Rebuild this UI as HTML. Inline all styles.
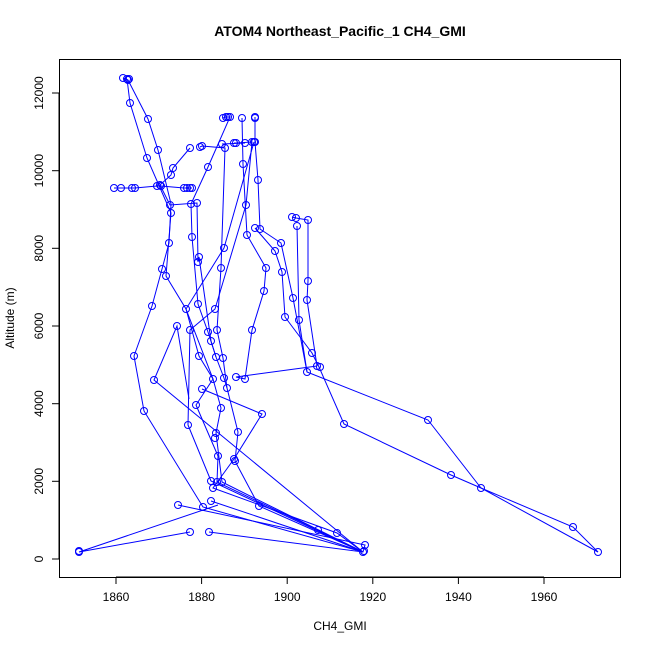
<!DOCTYPE html>
<html><head><style>body{margin:0;background:#fff}svg{display:block}text{font-family:"Liberation Sans",sans-serif}</style></head><body>
<svg width="650" height="650" xmlns="http://www.w3.org/2000/svg">
<rect width="650" height="650" fill="#fff"/>
<text x="340" y="36" font-size="14" font-weight="bold" text-anchor="middle">ATOM4 Northeast_Pacific_1 CH4_GMI</text>
<rect x="59.5" y="59.5" width="561" height="518" fill="none" stroke="#000"/>
<g stroke="#000">
<line x1="116" y1="577" x2="544" y2="577"/>
<line x1="116" y1="577" x2="116" y2="584"/><line x1="201.6" y1="577" x2="201.6" y2="584"/><line x1="287.2" y1="577" x2="287.2" y2="584"/><line x1="372.8" y1="577" x2="372.8" y2="584"/><line x1="458.4" y1="577" x2="458.4" y2="584"/><line x1="544" y1="577" x2="544" y2="584"/>
<line x1="59" y1="559" x2="59" y2="93"/>
<line x1="52" y1="559" x2="59" y2="559"/><line x1="52" y1="481.3" x2="59" y2="481.3"/><line x1="52" y1="403.7" x2="59" y2="403.7"/><line x1="52" y1="326" x2="59" y2="326"/><line x1="52" y1="248.3" x2="59" y2="248.3"/><line x1="52" y1="170.7" x2="59" y2="170.7"/><line x1="52" y1="93" x2="59" y2="93"/>
</g>
<g font-size="12" text-anchor="middle">
<text x="116" y="601">1860</text><text x="201.6" y="601">1880</text><text x="287.2" y="601">1900</text><text x="372.8" y="601">1920</text><text x="458.4" y="601">1940</text><text x="544" y="601">1960</text>
<text x="340" y="630">CH4_GMI</text>
<g transform="rotate(-90)">
<text x="-559" y="43">0</text><text x="-481.3" y="43">2000</text><text x="-403.7" y="43">4000</text><text x="-326" y="43">6000</text><text x="-248.3" y="43">8000</text><text x="-170.7" y="43">10000</text><text x="-93" y="43">12000</text>
<text x="-318" y="14">Altitude (m)</text>
</g></g>
<g fill="none" stroke="#0000ff" stroke-width="1">
<polyline points="123,78 128,80 148,119 158,150 171,204 169,243 162,269 152,306 134,356 144,411 203,507 363,552"/>
<polyline points="127,79 130,103 147,158 171,213 166,276 186,309 199,356 213,379 221,408 216,433 222,482 363,552"/>
<polyline points="114,188 121,188 132,188 135,188 157,186 161,186 184,188 187,188 190,188 192,188"/>
<polyline points="190,148 173,168 171,175 160,185 170,205 197,203 198,262 199,257 211,341 216,357"/>
<polyline points="223,118 226,117 228,117 230,117 208,167 191,204 192,237 198,304 208,332 216,357 224,378 227,388 238,432 235,461 259,506 363,552"/>
<polyline points="200,147 202,146 225,148 221,268 217,330 223,358 227,388"/>
<polyline points="236,143 252,142 246,205 215,309 190,330 188,425 211,481 363,552"/>
<polyline points="254,142 224,248 186,309 213,379 196,405 218,456 217,482 318,530 363,552"/>
<polyline points="242,118 243,164 247,235 266,268 264,291 252,330 245,379 236,377 317,366"/>
<polyline points="255,117 255,142 258,180 260,229 281,243 293,298 307,372"/>
<polyline points="255,228 275,251 282,272 285,317 312,353 319,367 344,424 451,475 481,488 573,527 598,552"/>
<polyline points="292,217 296,218 308,220 308,281 307,300 317,366"/>
<polyline points="297,226 299,320 307,372 428,420 481,488 598,552"/>
<polyline points="202,389 262,414 234,459 213,488 337,533 363,552"/>
<polyline points="218,505 79,552 190,532"/>
<polyline points="178,505 365,545 363,552 209,532"/>
<polyline points="211,501 363,552 154,380 177,326 189,399"/>
<polyline points="234,143 245,143 222,144"/>
</g>
<g fill="none" stroke="#0000ff" stroke-width="1">
<script>/* none */</script>
</g>
<g id="pts" fill="none" stroke="#0000ff" stroke-width="1">
<circle cx="123" cy="78" r="3.5"/><circle cx="127" cy="79" r="3.5"/><circle cx="128" cy="80" r="3.5"/><circle cx="129" cy="79" r="3.5"/>
<circle cx="130" cy="103" r="3.5"/><circle cx="148" cy="119" r="3.5"/>
<circle cx="223" cy="118" r="3.5"/><circle cx="226" cy="117" r="3.5"/><circle cx="228" cy="117" r="3.5"/><circle cx="230" cy="117" r="3.5"/><circle cx="242" cy="118" r="3.5"/><circle cx="255" cy="118" r="3.5"/><circle cx="255" cy="117" r="3.5"/>
<circle cx="190" cy="148" r="3.5"/><circle cx="200" cy="147" r="3.5"/><circle cx="202" cy="146" r="3.5"/><circle cx="222" cy="144" r="3.5"/><circle cx="225" cy="148" r="3.5"/><circle cx="234" cy="143" r="3.5"/><circle cx="236" cy="143" r="3.5"/><circle cx="245" cy="143" r="3.5"/><circle cx="252" cy="142" r="3.5"/><circle cx="254" cy="142" r="3.5"/><circle cx="255" cy="142" r="3.5"/>
<circle cx="158" cy="150" r="3.5"/><circle cx="147" cy="158" r="3.5"/>
<circle cx="173" cy="168" r="3.5"/><circle cx="208" cy="167" r="3.5"/><circle cx="243" cy="164" r="3.5"/><circle cx="171" cy="175" r="3.5"/><circle cx="258" cy="180" r="3.5"/>
<circle cx="114" cy="188" r="3.5"/><circle cx="121" cy="188" r="3.5"/><circle cx="132" cy="188" r="3.5"/><circle cx="135" cy="188" r="3.5"/><circle cx="157" cy="186" r="3.5"/><circle cx="161" cy="186" r="3.5"/><circle cx="160" cy="185" r="3.5"/><circle cx="184" cy="188" r="3.5"/><circle cx="187" cy="188" r="3.5"/><circle cx="190" cy="188" r="3.5"/><circle cx="192" cy="188" r="3.5"/>
<circle cx="170" cy="205" r="3.5"/><circle cx="191" cy="204" r="3.5"/><circle cx="197" cy="203" r="3.5"/><circle cx="246" cy="205" r="3.5"/><circle cx="171" cy="213" r="3.5"/>
<circle cx="292" cy="217" r="3.5"/><circle cx="296" cy="218" r="3.5"/><circle cx="308" cy="220" r="3.5"/>
<circle cx="255" cy="228" r="3.5"/><circle cx="260" cy="229" r="3.5"/><circle cx="297" cy="226" r="3.5"/>
<circle cx="192" cy="237" r="3.5"/><circle cx="247" cy="235" r="3.5"/><circle cx="169" cy="243" r="3.5"/><circle cx="281" cy="243" r="3.5"/><circle cx="224" cy="248" r="3.5"/><circle cx="275" cy="251" r="3.5"/>
<circle cx="199" cy="257" r="3.5"/><circle cx="198" cy="262" r="3.5"/><circle cx="162" cy="269" r="3.5"/><circle cx="221" cy="268" r="3.5"/><circle cx="266" cy="268" r="3.5"/><circle cx="166" cy="276" r="3.5"/><circle cx="308" cy="281" r="3.5"/><circle cx="282" cy="272" r="3.5"/><circle cx="264" cy="291" r="3.5"/>
<circle cx="293" cy="298" r="3.5"/><circle cx="307" cy="300" r="3.5"/><circle cx="152" cy="306" r="3.5"/><circle cx="198" cy="304" r="3.5"/><circle cx="186" cy="309" r="3.5"/><circle cx="215" cy="309" r="3.5"/><circle cx="285" cy="317" r="3.5"/><circle cx="299" cy="320" r="3.5"/>
<circle cx="177" cy="326" r="3.5"/><circle cx="190" cy="330" r="3.5"/><circle cx="208" cy="332" r="3.5"/><circle cx="217" cy="330" r="3.5"/><circle cx="252" cy="330" r="3.5"/><circle cx="211" cy="341" r="3.5"/><circle cx="312" cy="353" r="3.5"/>
<circle cx="134" cy="356" r="3.5"/><circle cx="199" cy="356" r="3.5"/><circle cx="216" cy="357" r="3.5"/><circle cx="223" cy="358" r="3.5"/><circle cx="317" cy="366" r="3.5"/><circle cx="320" cy="367" r="3.5"/><circle cx="307" cy="372" r="3.5"/>
<circle cx="236" cy="377" r="3.5"/><circle cx="224" cy="378" r="3.5"/><circle cx="213" cy="379" r="3.5"/><circle cx="154" cy="380" r="3.5"/><circle cx="245" cy="379" r="3.5"/><circle cx="202" cy="389" r="3.5"/><circle cx="227" cy="388" r="3.5"/>
<circle cx="196" cy="405" r="3.5"/><circle cx="221" cy="408" r="3.5"/><circle cx="144" cy="411" r="3.5"/><circle cx="262" cy="414" r="3.5"/><circle cx="344" cy="424" r="3.5"/><circle cx="428" cy="420" r="3.5"/><circle cx="188" cy="425" r="3.5"/>
<circle cx="216" cy="433" r="3.5"/><circle cx="238" cy="432" r="3.5"/><circle cx="215" cy="438" r="3.5"/><circle cx="218" cy="456" r="3.5"/><circle cx="234" cy="459" r="3.5"/><circle cx="235" cy="461" r="3.5"/><circle cx="451" cy="475" r="3.5"/>
<circle cx="211" cy="481" r="3.5"/><circle cx="217" cy="482" r="3.5"/><circle cx="222" cy="482" r="3.5"/><circle cx="213" cy="488" r="3.5"/><circle cx="481" cy="488" r="3.5"/>
<circle cx="211" cy="501" r="3.5"/><circle cx="259" cy="506" r="3.5"/><circle cx="178" cy="505" r="3.5"/><circle cx="203" cy="507" r="3.5"/>
<circle cx="318" cy="530" r="3.5"/><circle cx="337" cy="533" r="3.5"/><circle cx="573" cy="527" r="3.5"/><circle cx="190" cy="532" r="3.5"/><circle cx="209" cy="532" r="3.5"/><circle cx="365" cy="545" r="3.5"/>
<circle cx="79" cy="552" r="3.5"/><circle cx="79" cy="551" r="3.5"/><circle cx="363" cy="552" r="3.5"/><circle cx="364" cy="551" r="3.5"/><circle cx="598" cy="552" r="3.5"/>
</g>
</svg>
</body></html>
